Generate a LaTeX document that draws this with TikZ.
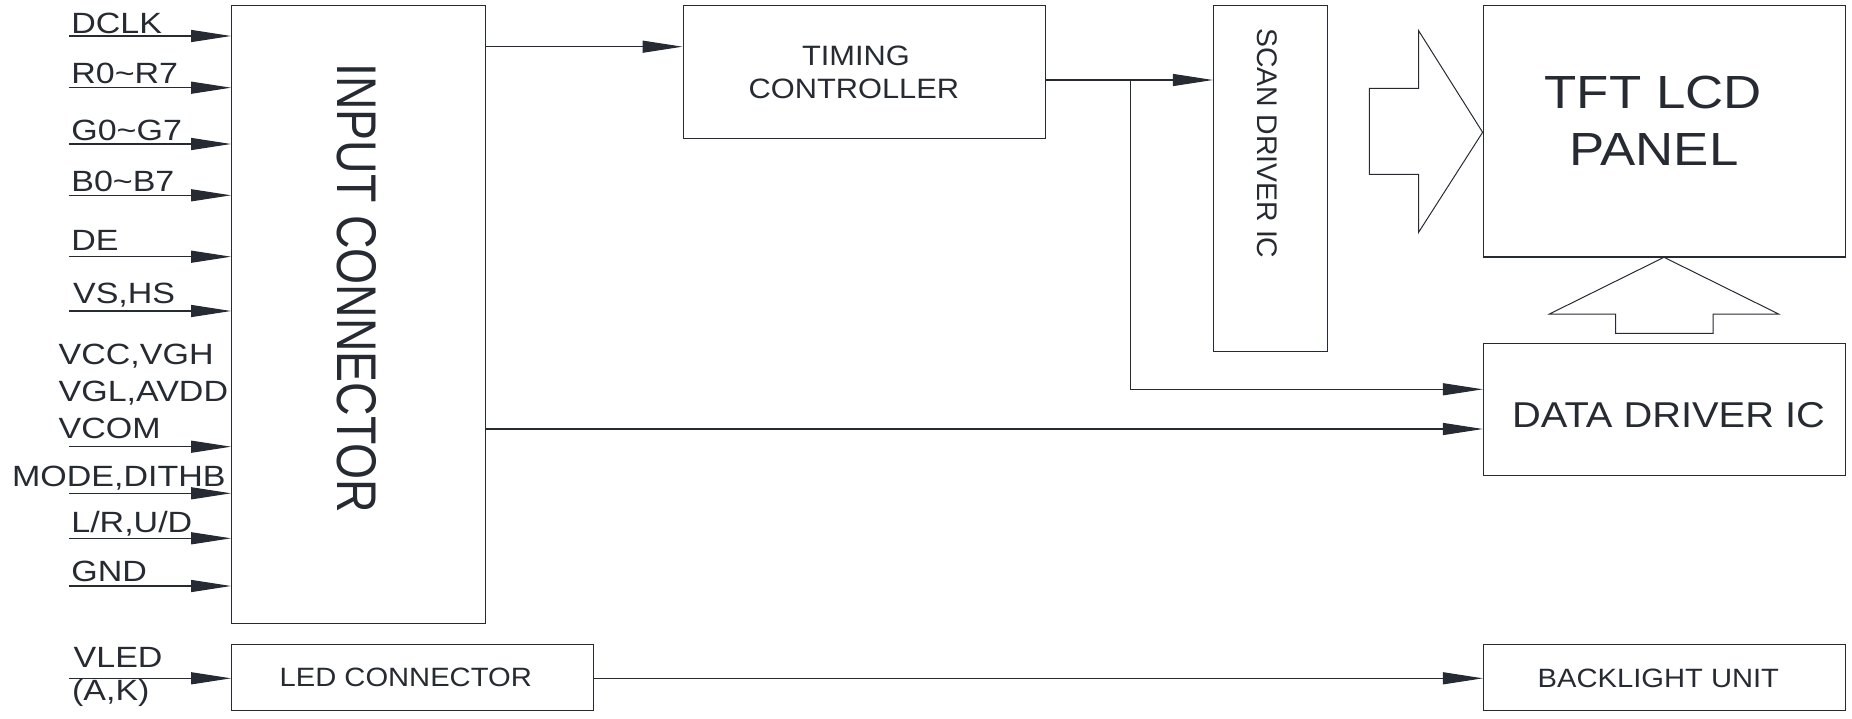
\documentclass[tikz,border=0pt]{standalone}
\usepackage{fontspec}
\usepackage{graphicx}
\setmainfont{Liberation Sans}
\usetikzlibrary{arrows.meta,fit}
\definecolor{ink}{RGB}{38,42,50}
\newcommand{\txt}[3]{\fontsize{#1}{#1}\selectfont\scalebox{#2}[1]{#3}}
\begin{document}
\begin{tikzpicture}[x=0.5pt,y=-0.5pt,
  box/.style={draw=ink,line width=0.6pt,inner sep=0pt},
  lbl/.style={inner sep=0pt,text=ink},
  arr/.style={draw=ink,line width=0.6pt,-{Triangle[length=20pt,width=6pt]}},
  hollow/.style={draw=ink,line width=0.5pt,line join=miter}]
\useasboundingbox (0,0) rectangle (1852,718);

% boxes
\node[box,fit={(231.7,5.7) (485.3,623.3)}] (inp) {};
\node[box,fit={(231.7,644.3) (593.3,710.5)}] (led) {};
\node[box,fit={(683.1,5.7) (1045.6,138.3)}] (tim) {};
\node[box,fit={(1213.5,5.7) (1327.5,351.3)}] (scan) {};
\node[box,fit={(1483.5,5.7) (1845.3,257)}] (tft) {};
\node[box,fit={(1483.5,343.3) (1845.3,475.7)}] (data) {};
\node[box,fit={(1483.5,644.3) (1845.3,710.7)}] (bl) {};

% box texts
\node[lbl] (tinp) at (356.7,288.3) {\rotatebox{-90}{\txt{27.95pt}{0.83}{INPUT CONNECTOR}}};
\node[lbl] (tscan) at (1267.5,143.3) {\rotatebox{-90}{\txt{14.2pt}{1.0}{SCAN DRIVER IC}}};
\node[lbl,anchor=base] (ttim1) at (855.9,65) {\txt{14pt}{1.1}{TIMING}};
\node[lbl,anchor=base] (ttim2) at (853.9,98.3) {\txt{14pt}{1.1}{CONTROLLER}};
\node[lbl,anchor=base] (ttft1) at (1653.2,108.3) {\txt{23.25pt}{1.135}{TFT LCD}};
\node[lbl,anchor=base] (ttft2) at (1653.9,165) {\txt{23.25pt}{1.135}{PANEL}};
\node[lbl,anchor=base west] (tdata) at (1511.7,427.3) {\txt{17.95pt}{1.11}{DATA DRIVER IC}};
\node[lbl,anchor=base west] (tbl) at (1537.3,687.3) {\txt{13.25pt}{1.10}{BACKLIGHT UNIT}};
\node[lbl,anchor=base west] (tled) at (279.3,686.7) {\txt{13.25pt}{1.10}{LED CONNECTOR}};

% left labels
\foreach \n/\x/\b/\t in {1/71/33.3/DCLK, 2/71/83.3/R0\textasciitilde R7, 3/71/140/G0\textasciitilde G7,
  4/71/191.7/B0\textasciitilde B7, 5/71/250.7/DE, 6/72.7/303.3/{VS,HS}, 7/58.3/364/{VCC,VGH},
  8/58.3/401/{VGL,AVDD}, 9/58.3/438/VCOM, 10/11.7/486.7/{MODE,DITHB}, 11/71/532.7/{L/R,U/D},
  12/71/581.7/GND, 13/73.3/667/VLED, 14/71.7/700/{(A,K)}}
  \node[lbl,anchor=base west] (l\n) at (\x,\b) {\txt{14.65pt}{1.16}{\t}};

% input arrows
\foreach \n/\y in {1/36, 2/87.7, 3/144, 4/195.3, 5/256.7, 6/311, 9/446.7, 10/493.3, 11/538.3, 12/586} {
  \coordinate (s\n) at (69,\y);
  \draw[arr] (s\n) -- (inp.west |- s\n);
}
\coordinate (sv) at (69,678.3);
\draw[arr] (sv) -- (led.west |- sv);

% internal connectors
\coordinate (r1) at (0,46.7);
\coordinate (r2) at (0,80);
\coordinate (r3) at (0,389.3);
\coordinate (r4) at (0,429);
\coordinate (r5) at (0,678.3);
\coordinate (j) at (1130.7,80);
\draw[arr] (inp.east |- r1) -- (tim.west |- r1);
\draw[arr] (tim.east |- r2) -- (scan.west |- r2);
\draw[arr] (j) |- (data.west |- r3);
\draw[arr] (inp.east |- r4) -- (data.west |- r4);
\draw[arr] (led.east |- r5) -- (bl.west |- r5);

% hollow arrows
\draw[hollow] (1369.4,88.3) -- (1418.6,88.3) -- (1418.6,30.7) -- (1482.6,132.3)
  -- (1418.6,232.3) -- (1418.6,174.3) -- (1369.4,174.3) -- cycle;
\draw[hollow] (1615.6,333.3) -- (1713.2,333.3) -- (1713.2,314) -- (1778.6,314)
  -- (1664,257.3) -- (1549.4,314) -- (1615.6,314) -- cycle;
\end{tikzpicture}
\end{document}
